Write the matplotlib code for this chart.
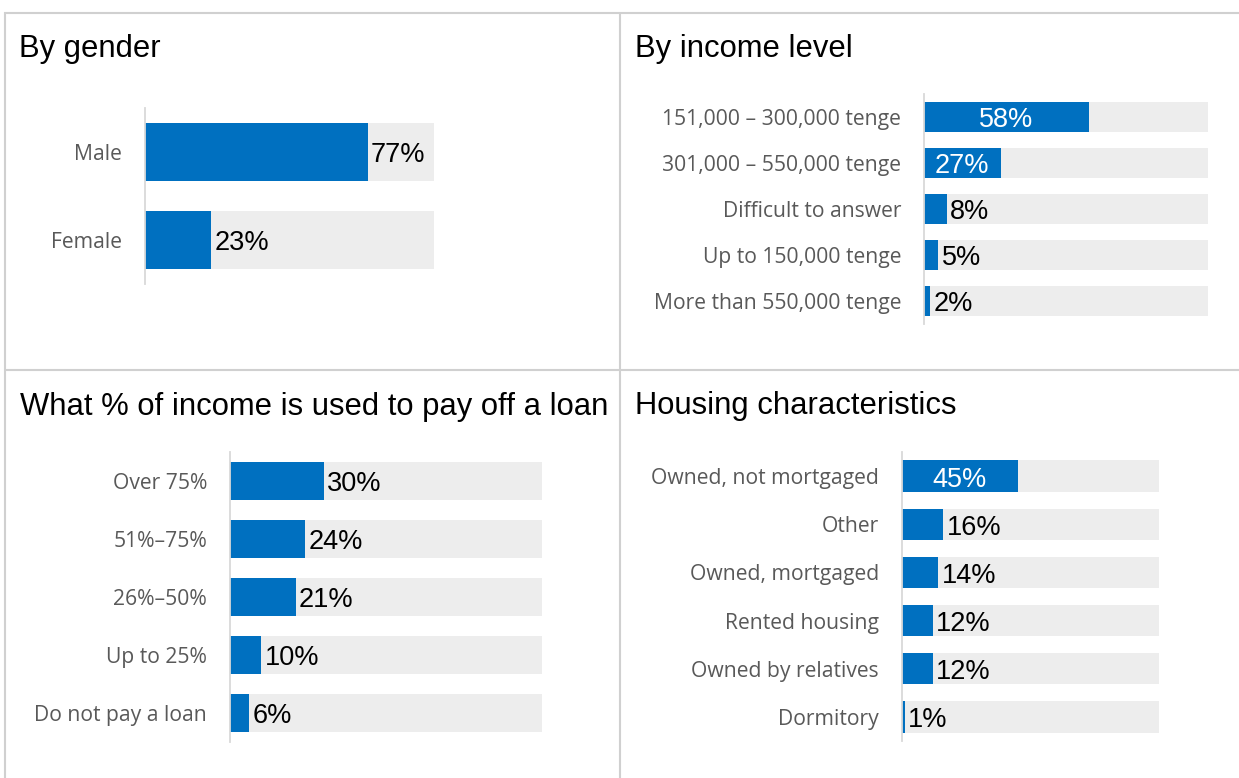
import matplotlib
matplotlib.use("Agg")
import matplotlib.pyplot as plt
from matplotlib.lines import Line2D

# ---- data -------------------------------------------------------------
gender_labels = ["Male", "Female"]
gender_values = [77, 23]

income_labels = ["151,000 – 300,000 tenge", "301,000 – 550,000 tenge",
                 "Difficult to answer", "Up to 150,000 tenge",
                 "More than 550,000 tenge"]
income_values = [58, 27, 8, 5, 2]

loan_labels = ["Over 75%", "51%–75%", "26%–50%", "Up to 25%", "Do not pay a loan"]
loan_values = [30, 24, 21, 10, 6]

housing_labels = ["Owned, not mortgaged", "Other", "Owned, mortgaged",
                  "Rented housing", "Owned by relatives", "Dormitory"]
housing_values = [45, 16, 14, 12, 12, 1]

titles = ["By gender", "By income level",
          "What % of income is used to pay off a loan", "Housing characteristics"]

# ---- style ------------------------------------------------------------
BLUE = "#0070C0"
TRACK = "#EDEDED"
GRID = "#D0D0D0"
LABEL_GRAY = "#595959"
TITLE_FONT = ["Liberation Sans", "DejaVu Sans"]
CAT_FONT = ["Open Sans", "DejaVu Sans"]

W, H = 1239, 778
fig = plt.figure(figsize=(W / 100, H / 100), dpi=100)
fig.patch.set_facecolor("white")


def px_axes(x0, y0, x1, y1):
    return fig.add_axes([x0 / W, 1 - y1 / H, (x1 - x0) / W, (y1 - y0) / H])


def fig_line(xs, ys):
    fig.add_artist(Line2D([x / W for x in xs], [1 - y / H for y in ys],
                          transform=fig.transFigure, color=GRID, lw=1.5,
                          solid_capstyle="butt"))


# panel frame
fig_line([4, W], [12.5, 12.5])
fig_line([4, W], [370, 370])
fig_line([4.5, 4.5], [12, H])
fig_line([620, 620], [12, H])


def bar_panel(rect, labels, values, inside_n, bar_h=0.65):
    ax = px_axes(*rect)
    n = len(labels)
    pos = list(range(n))
    ax.barh(pos, [100] * n, height=bar_h, color=TRACK, zorder=1)
    ax.barh(pos, values, height=bar_h, color=BLUE, zorder=2)
    ax.set_xlim(0, 100)
    ax.set_ylim(n - 0.5, -0.5)
    for s in ("top", "right", "bottom"):
        ax.spines[s].set_visible(False)
    ax.spines["left"].set_color("#D9D9D9")
    ax.spines["left"].set_linewidth(1.3)
    ax.set_xticks([])
    ax.set_yticks(pos)
    ax.set_yticklabels(labels, fontsize=15.2, color=LABEL_GRAY, family=CAT_FONT)
    ax.tick_params(axis="y", length=0, pad=16.5)
    ax.set_facecolor("none")
    for i, v in enumerate(values):
        if i < inside_n:
            ax.annotate(f"{v}%", xy=(v / 2, i), xytext=(0, -2.5),
                        textcoords="offset points", ha="center", va="center",
                        fontsize=19.5, color="white", family=TITLE_FONT, zorder=3)
        else:
            ax.annotate(f"{v}%", xy=(v, i), xytext=(2.5, -2.5),
                        textcoords="offset points", ha="left", va="center",
                        fontsize=19.5, color="black", family=TITLE_FONT, zorder=3)
    return ax


bar_panel((145, 108, 434, 284), gender_labels, gender_values, 0)
bar_panel((924, 94, 1208, 324), income_labels, income_values, 2)
bar_panel((230, 452, 542, 742), loan_labels, loan_values, 0)
bar_panel((902, 452, 1159, 741), housing_labels, housing_values, 1)

# panel titles
for (x, y), t in zip([(19, 57), (635, 57), (20, 415), (635, 414)], titles):
    fig.text(x / W, 1 - y / H, t, ha="left", va="baseline", fontsize=22.3,
             family=TITLE_FONT, color="black")

fig.savefig("out.png", dpi=100, facecolor="white")
